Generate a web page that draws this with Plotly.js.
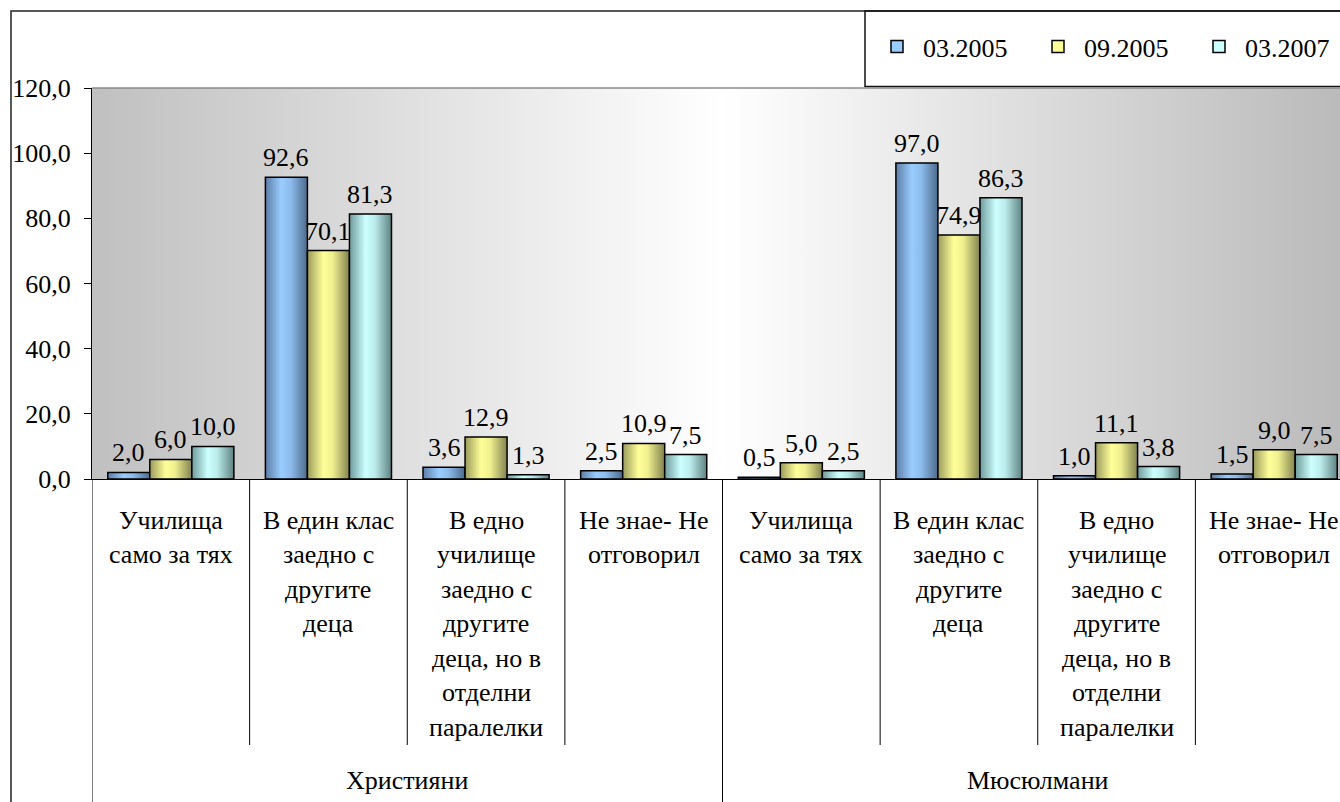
<!DOCTYPE html>
<html><head><meta charset="utf-8">
<script src="https://cdn.plot.ly/plotly-3.0.1.min.js"></script>
<style>html,body{margin:0;padding:0;overflow:hidden;background:#fff;width:1340px;height:802px}#chart{width:1380px;height:830px}</style>
</head><body><div id="chart"></div>
<script>
// ---- data ----
const groups = ['Християни', 'Мюсюлмани'];
const categories = [
  'Училища\nсамо за тях',
  'В един клас\nзаедно с\nдругите\nдеца',
  'В едно\nучилище\nзаедно с\nдругите\nдеца, но в\nотделни\nпаралелки',
  'Не знае- Не\nотговорил'
];
const seriesNames = ['03.2005', '09.2005', '03.2007'];
const values_03_2005 = [2.0, 92.6, 3.6, 2.5, 0.5, 97.0, 1.0, 1.5];
const values_09_2005 = [6.0, 70.1, 12.9, 10.9, 5.0, 74.9, 11.1, 9.0];
const values_03_2007 = [10.0, 81.3, 1.3, 7.5, 2.5, 86.3, 3.8, 7.5];
const yTicks = [0, 20, 40, 60, 80, 100, 120];

// ---- styling ----
const FONT = 'Liberation Serif, DejaVu Serif, serif';
const FS = 26;
const colors = ['#99ccff', '#ffff99', '#ccffff'];
const W = 1380, H = 830;
const M = {l: 92, r: 27, t: 88, b: 351, autoexpand: false};
const PW = W - M.l - M.r, PH = H - M.t - M.b;
const BARGAP = 0.2;
const px2x = px => (px - M.l) / PW;
const py2y = py => (M.t + PH - py) / PH;

const allSeries = [values_03_2005, values_09_2005, values_03_2007];
const nCat = groups.length * categories.length;
const xIdx = [];
groups.forEach((g, gi) => categories.forEach((c, ci) => xIdx.push(gi * categories.length + ci)));

const traces = allSeries.map((vals, s) => ({
  type: 'bar', name: seriesNames[s], x: xIdx, y: vals,
  marker: {color: colors[s], line: {color: '#000', width: 1.5}},
  hoverinfo: 'skip'
}));

const fmt = v => v.toFixed(1).replace('.', ',');
const barPx = PW / nCat * (1 - BARGAP) / allSeries.length;
const annotations = [];
// data labels
allSeries.forEach((vals, s) => vals.forEach((v, i) => {
  annotations.push({x: xIdx[i], y: v, xref: 'x', yref: 'y', text: fmt(v), showarrow: false,
    xanchor: 'center', yanchor: 'bottom', xshift: (s - (allSeries.length - 1) / 2) * barPx, yshift: 3,
    font: {family: FONT, size: FS, color: '#000'}});
}));
// category labels
xIdx.forEach(i => {
  const lines = categories[i % categories.length].split('\n');
  lines.forEach((ln, j) => annotations.push({x: i, y: 0, xref: 'x', yref: 'paper', text: ln, showarrow: false,
    xanchor: 'center', yanchor: 'middle', yshift: -(41 + j * 34.5),
    font: {family: FONT, size: FS, color: '#000'}}));
});
// group labels
groups.forEach((g, gi) => {
  const mid = gi * categories.length + (categories.length - 1) / 2;
  annotations.push({x: mid, y: 0, xref: 'x', yref: 'paper', text: g, showarrow: false,
    xanchor: 'center', yanchor: 'middle', yshift: -301, font: {family: FONT, size: FS, color: '#000'}});
});

const shapes = [];
// outer chart border
shapes.push({type: 'rect', xref: 'paper', yref: 'paper', x0: px2x(11), x1: px2x(1500), y0: py2y(1000), y1: py2y(11),
  line: {color: '#222', width: 1.5}, fillcolor: 'rgba(0,0,0,0)'});
// legend box
shapes.push({type: 'rect', xref: 'paper', yref: 'paper', x0: px2x(865), x1: px2x(1500), y0: py2y(86.5), y1: py2y(11),
  line: {color: '#111', width: 1.5}, fillcolor: 'rgba(0,0,0,0)'});
// plot area top border
shapes.push({type: 'line', xref: 'paper', yref: 'paper', x0: 0, x1: 1, y0: 1, y1: 1, line: {color: '#888', width: 1.5}});
// category dividers
for (let k = 0; k <= nCat; k++) {
  const isGroup = k % categories.length === 0;
  shapes.push({type: 'line', xref: 'x', yref: 'paper', x0: k - 0.5, x1: k - 0.5, y0: 0,
    y1: isGroup ? py2y(900) : py2y(745), line: {color: '#000', width: 1}});
}

const layout = {
  width: W, height: H, margin: M, autosize: false,
  paper_bgcolor: '#fff', plot_bgcolor: '#dddddd',
  separators: ', ',
  font: {family: FONT, size: FS, color: '#000'},
  barmode: 'group', bargap: BARGAP, bargroupgap: 0,
  showlegend: true,
  legend: {orientation: 'h', x: px2x(871), y: py2y(23), xanchor: 'left', yanchor: 'top',
    bgcolor: 'rgba(0,0,0,0)', font: {family: FONT, size: FS, color: '#000'},
    itemwidth: 42, entrywidth: 104, traceorder: 'normal'},
  xaxis: {range: [-0.5, nCat - 0.5], showticklabels: false, ticks: '', showgrid: false, zeroline: false,
    showline: true, linecolor: '#000', linewidth: 1, fixedrange: true},
  yaxis: {range: [0, 120], tickvals: yTicks, tickformat: '.1f', ticks: 'outside', ticklen: 7, tickcolor: '#000',
    tickwidth: 1, ticklabelstandoff: 8, showgrid: false, zeroline: false, showline: true, linecolor: '#000', linewidth: 1,
    tickfont: {family: FONT, size: FS, color: '#000'}, fixedrange: true},
  annotations, shapes
};

Plotly.newPlot('chart', traces, layout, {staticPlot: true, displayModeBar: false}).then(gd => {
  const NS = 'http://www.w3.org/2000/svg';
  const svg = gd.querySelector('svg.main-svg');
  let defs = svg.querySelector('defs');
  if (!defs) { defs = document.createElementNS(NS, 'defs'); svg.insertBefore(defs, svg.firstChild); }
  function addGrad(id, stops) {
    const g = document.createElementNS(NS, 'linearGradient');
    g.setAttribute('id', id); g.setAttribute('x1', '0'); g.setAttribute('x2', '1');
    g.setAttribute('y1', '0'); g.setAttribute('y2', '0');
    stops.forEach(([o, c]) => { const st = document.createElementNS(NS, 'stop');
      st.setAttribute('offset', o); st.setAttribute('stop-color', c); g.appendChild(st); });
    defs.appendChild(g);
  }
  addGrad('barGrad0', [[0, '#5d7da6'], [0.38, '#99ccff'], [0.6, '#8dbcec'], [1, '#4c6a8c']]);
  addGrad('barGrad1', [[0, '#9a9a5c'], [0.38, '#ffff99'], [0.6, '#efef8f'], [1, '#828250']]);
  addGrad('barGrad2', [[0, '#6f9a9a'], [0.38, '#ccffff'], [0.6, '#bcecec'], [1, '#5f8282']]);
  addGrad('bgGrad', [[0, '#c0c0c0'], [0.5, '#ffffff'], [1, '#b9b9b9']]);
  gd.querySelectorAll('.barlayer .trace').forEach((t, i) => {
    t.querySelectorAll('path').forEach(p => p.style.fill = 'url(#barGrad' + i + ')');
  });
  const bg = gd.querySelector('.bglayer .bg');
  if (bg) bg.style.fill = 'url(#bgGrad)';
});
</script>
</body></html>
